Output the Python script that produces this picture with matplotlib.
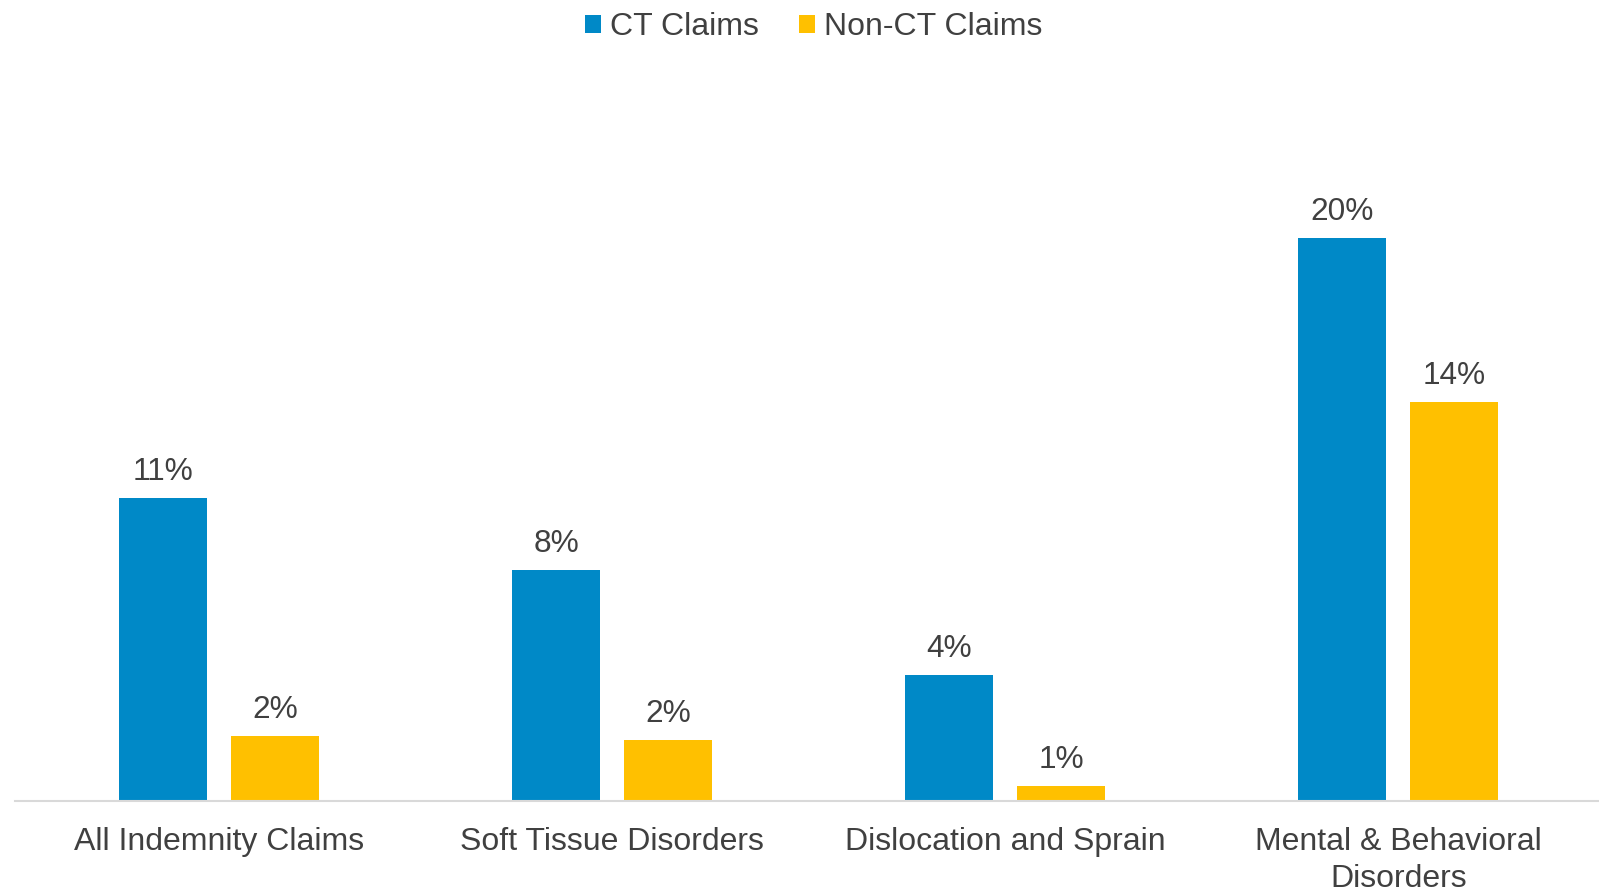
import numpy as np
import matplotlib
matplotlib.use("Agg")
import matplotlib.pyplot as plt

plt.rcParams['font.family'] = ['Liberation Sans', 'DejaVu Sans']

# Data (share of claims)
categories = ['All Indemnity Claims', 'Soft Tissue Disorders',
              'Dislocation and Sprain', 'Mental & Behavioral\nDisorders']
ct_claims = [0.1077, 0.0820, 0.0448, 0.2000]
non_ct_claims = [0.0231, 0.0217, 0.0054, 0.1418]
series_names = ['CT Claims', 'Non-CT Claims']

blue = '#0089C7'
yellow = '#FFC000'
txt = '#404040'

W, H = 1599, 889
fig = plt.figure(figsize=(W / 100, H / 100), dpi=100)
left, right, bottom, top = 15, 1599, 801, 60
ax = fig.add_axes([left / W, 1 - bottom / H, (right - left) / W, (bottom - top) / H])

x = np.arange(len(categories))
w = 0.224
off = 0.1422
b1 = ax.bar(x - off, ct_claims, w, color=blue, label=series_names[0])
b2 = ax.bar(x + off, non_ct_claims, w, color=yellow, label=series_names[1])

px_per_unit = 563 / 0.20
ax.set_ylim(0, (bottom - top) / px_per_unit)
ax.set_xlim(-(219.2 - left) / 393, -(219.2 - left) / 393 + (right - left) / 393)

for bars in (b1, b2):
    for r in bars:
        v = r.get_height()
        ax.annotate(f'{v * 100:.0f}%', (r.get_x() + r.get_width() / 2, v),
                    xytext=(0, 13), textcoords='offset points',
                    ha='center', va='baseline', fontsize=22.8, color=txt)

ax.set_xticks(x)
ax.set_xticklabels(categories, fontsize=23, color=txt, linespacing=1.3)
ax.tick_params(axis='x', length=0, pad=18.5)
ax.set_yticks([])
for s in ['top', 'right', 'left']:
    ax.spines[s].set_visible(False)
ax.spines['bottom'].set_color('#d9d9d9')
ax.spines['bottom'].set_linewidth(1.5)

leg = fig.legend(loc='center', bbox_to_anchor=(814 / W, 1 - 27 / H), ncol=2,
                 frameon=False, fontsize=23, handlelength=0.49, handleheight=0.49,
                 handletextpad=0.3, columnspacing=1.25, borderaxespad=0)
for t in leg.get_texts():
    t.set_color(txt)

fig.savefig('out.png', dpi=100)
